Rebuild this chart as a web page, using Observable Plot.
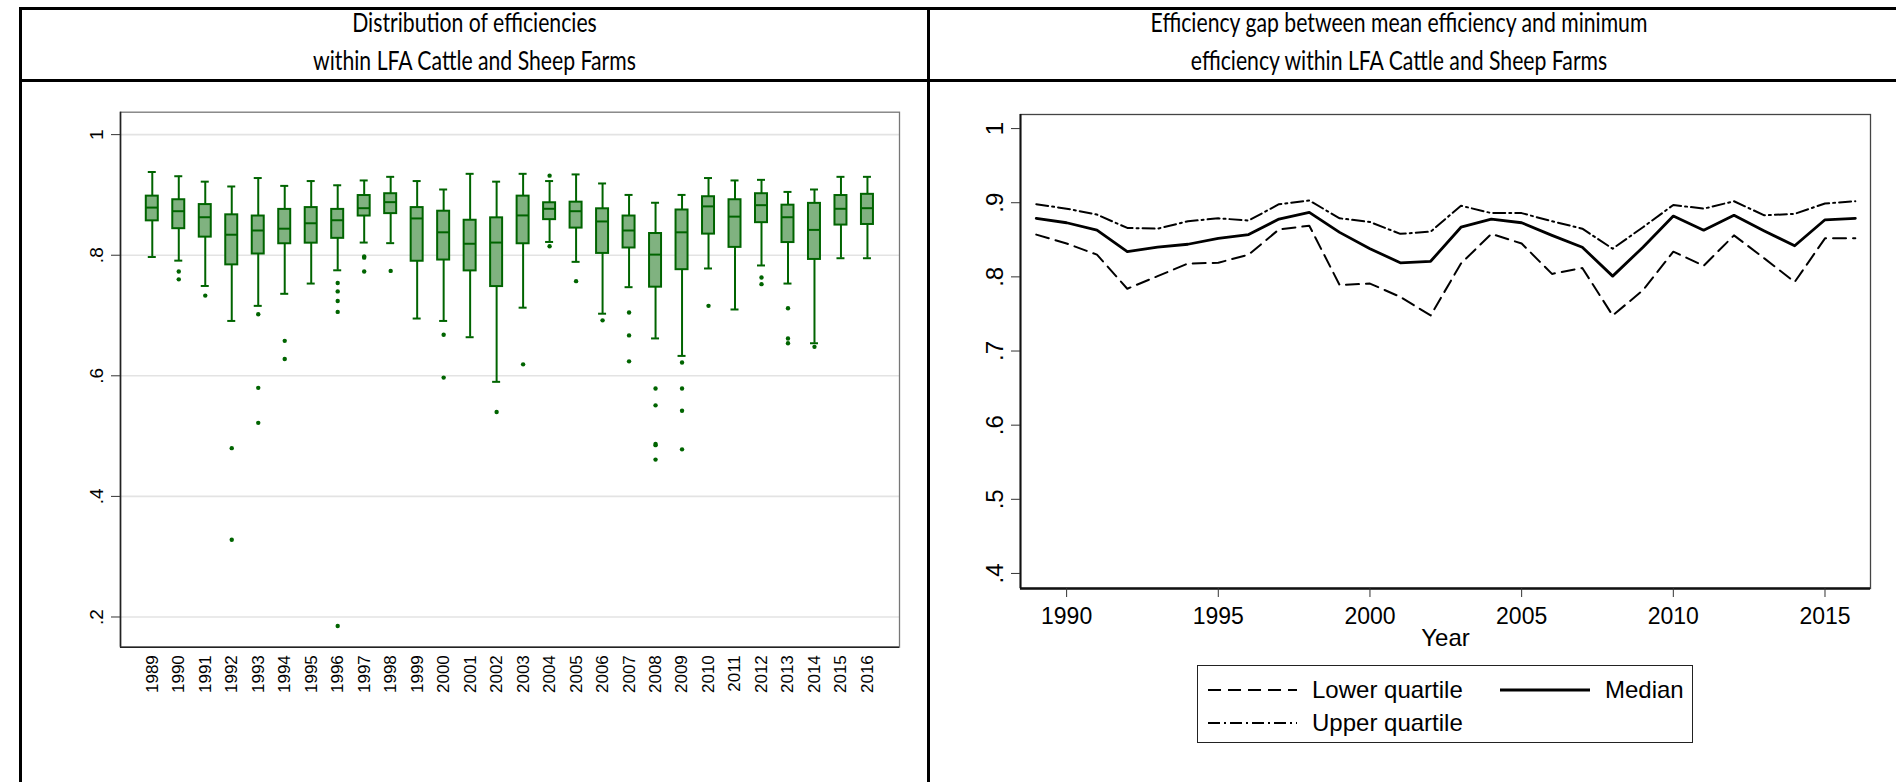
<!DOCTYPE html>
<html>
<head>
<meta charset="utf-8">
<script src="https://cdn.jsdelivr.net/npm/d3@7"></script>
<script src="https://cdn.jsdelivr.net/npm/@observablehq/plot@0.6"></script>
<style>
  html, body { margin: 0; padding: 0; background: #fff; }
  #page { position: relative; width: 1896px; height: 782px; overflow: hidden; background: #fff; font-family: "Liberation Sans", Arial, sans-serif; }
  .hline { position: absolute; background: #000; }
  .title { position: absolute; text-align: center; font-family: Lato, "Open Sans", sans-serif; font-size: 26.5px; line-height: 38px; color: #000; transform: scaleX(0.8); transform-origin: center; white-space: nowrap; }
  #legend { position: absolute; left: 1197px; top: 665px; width: 494px; height: 76px; border: 1.5px solid #222; background: #fff; }
  #legend svg { position: absolute; left: 0; top: 0; }
</style>
</head>
<body>
<div id="page">
  <div class="hline" style="left:19px; top:7px; width:1877px; height:3px;"></div>
  <div class="hline" style="left:19px; top:79px; width:1877px; height:3px;"></div>
  <div class="hline" style="left:19px; top:7px; width:3px; height:775px;"></div>
  <div class="hline" style="left:927px; top:7px; width:3px; height:775px;"></div>
  <div class="title" style="left:22px; top:3px; width:905px;">Distribution of efficiencies<br>within LFA Cattle and Sheep Farms</div>
  <div class="title" style="left:930px; top:3px; width:938px;">Efficiency gap between mean efficiency and minimum<br>efficiency within LFA Cattle and Sheep Farms</div>
  <div id="left" style="position:absolute; left:30px; top:95px; width:890px;"></div>
  <div id="right" style="position:absolute; left:940px; top:95px; width:950px;"></div>
  <div id="legend"></div>
</div>
<script>
// ---------- Data: left panel (box plots) ----------
const years = [1989,1990,1991,1992,1993,1994,1995,1996,1997,1998,1999,2000,2001,2002,2003,2004,2005,2006,2007,2008,2009,2010,2011,2012,2013,2014,2015,2016];
const whiskerLow  = [0.797,0.791,0.749,0.691,0.716,0.736,0.753,0.775,0.821,0.820,0.695,0.691,0.664,0.590,0.713,0.822,0.789,0.703,0.747,0.662,0.633,0.778,0.710,0.783,0.753,0.654,0.795,0.795];
const quart1      = [0.857,0.844,0.830,0.784,0.802,0.819,0.820,0.828,0.865,0.869,0.790,0.792,0.774,0.748,0.819,0.859,0.845,0.803,0.812,0.747,0.776,0.835,0.813,0.854,0.821,0.793,0.850,0.851];
const medianBox   = [0.879,0.873,0.863,0.834,0.841,0.844,0.853,0.858,0.878,0.888,0.861,0.838,0.819,0.821,0.866,0.877,0.873,0.856,0.841,0.801,0.838,0.881,0.864,0.883,0.863,0.842,0.877,0.878];
const quart3      = [0.898,0.892,0.884,0.867,0.865,0.876,0.879,0.876,0.899,0.902,0.879,0.873,0.858,0.862,0.898,0.887,0.888,0.877,0.865,0.836,0.875,0.897,0.892,0.902,0.883,0.886,0.899,0.901];
const whiskerHigh = [0.938,0.931,0.922,0.914,0.928,0.915,0.923,0.916,0.924,0.930,0.923,0.909,0.935,0.922,0.935,0.923,0.934,0.919,0.900,0.887,0.900,0.928,0.924,0.925,0.905,0.909,0.930,0.930];

const outlierYear  = [1990,1990,1991,1992,1992,1993,1993,1993,1994,1994,1996,1996,1996,1996,1996,1997,1997,1997,1998,2000,2000,2002,2003,2004,2004,2005,2006,2007,2007,2007,2008,2008,2008,2008,2008,2009,2009,2009,2009,2010,2012,2012,2013,2013,2013,2014];
const outlierValue = [0.773,0.760,0.733,0.480,0.328,0.702,0.580,0.522,0.658,0.628,0.754,0.740,0.724,0.706,0.185,0.798,0.796,0.773,0.774,0.668,0.597,0.540,0.619,0.932,0.815,0.757,0.692,0.705,0.667,0.624,0.579,0.551,0.487,0.485,0.461,0.622,0.579,0.542,0.478,0.716,0.763,0.752,0.712,0.662,0.654,0.648];

const leftTickValues = [0.2, 0.4, 0.6, 0.8, 1];
const leftTickLabels = [".2", ".4", ".6", ".8", "1"];

// ---------- Data: right panel (lines) ----------
const lineYears   = [1989,1990,1991,1992,1993,1994,1995,1996,1997,1998,1999,2000,2001,2002,2003,2004,2005,2006,2007,2008,2009,2010,2011,2012,2013,2014,2015,2016];
const lowerQuartile = [0.857,0.845,0.830,0.784,0.801,0.818,0.819,0.830,0.864,0.869,0.789,0.791,0.773,0.748,0.818,0.858,0.845,0.804,0.812,0.748,0.782,0.834,0.815,0.856,0.825,0.793,0.852,0.852];
const medianLine    = [0.879,0.873,0.863,0.834,0.840,0.844,0.852,0.857,0.878,0.887,0.860,0.838,0.819,0.821,0.867,0.878,0.873,0.856,0.840,0.801,0.840,0.882,0.863,0.883,0.862,0.842,0.877,0.879];
const upperQuartile = [0.898,0.892,0.884,0.866,0.865,0.875,0.879,0.876,0.898,0.903,0.879,0.874,0.858,0.861,0.896,0.886,0.886,0.875,0.865,0.838,0.867,0.897,0.892,0.902,0.883,0.885,0.899,0.902];

const rightYTicks = [0.4, 0.5, 0.6, 0.7, 0.8, 0.9, 1];
const rightYLabels = [".4", ".5", ".6", ".7", ".8", ".9", "1"];
const rightXTicks = [1990, 1995, 2000, 2005, 2010, 2015];

const seriesNames = ["Lower quartile", "Median", "Upper quartile"];

// ---------- Build tables ----------
const boxes = years.map((y, i) => ({year: y, lo: whiskerLow[i], q1: quart1[i], med: medianBox[i], q3: quart3[i], hi: whiskerHigh[i]}));
const outliers = outlierYear.map((y, i) => ({year: y, v: outlierValue[i]}));
const lines = lineYears.map((y, i) => ({year: y, lower: lowerQuartile[i], median: medianLine[i], upper: upperQuartile[i]}));

const G = "#006400";
const FILL = "#80b280";
const FONT = "'Liberation Sans', Arial, sans-serif";
const halfBox = 0.2264, halfCap = 0.151;
const LX = [1987.8, 2017.21], LY = [0.1499, 1.0372];
const leftLabel = new Map(leftTickValues.map((v, i) => [v, leftTickLabels[i]]));

const leftPlot = Plot.plot({
  width: 890, height: 620,
  marginLeft: 90, marginRight: 21, marginTop: 16.7, marginBottom: 68.3,
  style: {background: "transparent", fontFamily: FONT, overflow: "visible", color: "#000"},
  x: {domain: LX, axis: null},
  y: {domain: LY, axis: null},
  marks: [
    Plot.ruleY(leftTickValues, {stroke: "#e3e3e3", strokeWidth: 1.6}),
    Plot.frame({stroke: "#777", strokeWidth: 1.3}),
    Plot.ruleX([LX[0]], {stroke: "#222", strokeWidth: 1.6}),
    Plot.ruleY([LY[0]], {stroke: "#222", strokeWidth: 1.6}),
    Plot.ruleX(boxes, {x: "year", y1: "lo", y2: "hi", stroke: G, strokeWidth: 2}),
    Plot.rect(boxes, {x1: d => d.year - halfBox, x2: d => d.year + halfBox, y1: "q1", y2: "q3", fill: FILL, stroke: G, strokeWidth: 2}),
    Plot.ruleY(boxes, {y: "med", x1: d => d.year - halfBox, x2: d => d.year + halfBox, stroke: G, strokeWidth: 2}),
    Plot.ruleY(boxes, {y: "hi", x1: d => d.year - halfCap, x2: d => d.year + halfCap, stroke: G, strokeWidth: 2}),
    Plot.ruleY(boxes, {y: "lo", x1: d => d.year - halfCap, x2: d => d.year + halfCap, stroke: G, strokeWidth: 2}),
    Plot.dot(outliers, {x: "year", y: "v", r: 2.2, fill: G, stroke: "none"}),
    Plot.axisY(leftTickValues, {tickFormat: d => leftLabel.get(d), tickRotate: -90, tickSize: 9, tickPadding: 9, fontSize: 19, stroke: "#333", label: null}),
    Plot.axisX(years, {tickFormat: d => String(d), tickRotate: -90, tickSize: 0, tickPadding: 8, fontSize: 17, label: null})
  ]
});
document.getElementById("left").appendChild(leftPlot);

const RX = [1988.48, 2016.5], RY = [0.3797, 1.019];
const rightLabel = new Map(rightYTicks.map((v, i) => [v, rightYLabels[i]]));
const dashStyles = {"Lower quartile": "13,7", "Median": null, "Upper quartile": "12,4,2,4"};

const rightPlot = Plot.plot({
  width: 950, height: 570,
  marginLeft: 80, marginRight: 20, marginTop: 19, marginBottom: 77,
  style: {background: "transparent", fontFamily: FONT, overflow: "visible", color: "#000"},
  x: {domain: RX, axis: null},
  y: {domain: RY, axis: null},
  marks: [
    Plot.frame({stroke: "#444", strokeWidth: 1.3}),
    Plot.ruleX([RX[0]], {stroke: "#111", strokeWidth: 2}),
    Plot.ruleY([RY[0]], {stroke: "#111", strokeWidth: 2.5}),
    Plot.lineY(lines, {x: "year", y: "lower", stroke: "#000", strokeWidth: 2, strokeDasharray: dashStyles["Lower quartile"]}),
    Plot.lineY(lines, {x: "year", y: "upper", stroke: "#000", strokeWidth: 2, strokeDasharray: dashStyles["Upper quartile"]}),
    Plot.lineY(lines, {x: "year", y: "median", stroke: "#000", strokeWidth: 2.8}),
    Plot.axisY(rightYTicks, {tickFormat: d => rightLabel.get(d), tickRotate: -90, tickSize: 9, tickPadding: 9, fontSize: 24, stroke: "#333", label: null}),
    Plot.axisX(rightXTicks, {tickFormat: d => String(d), tickSize: 9, tickPadding: 10, fontSize: 23, stroke: "#333", label: null}),
    Plot.text(["Year"], {frameAnchor: "bottom", dy: 57, fontSize: 24, fill: "#000"})
  ]
});
document.getElementById("right").appendChild(rightPlot);

// ---------- Legend ----------
const legendRows = [
  {name: seriesNames[0], x: 10, y: 24, w: 89, width: 2, dash: dashStyles[seriesNames[0]]},
  {name: seriesNames[1], x: 302, y: 24, w: 90, width: 2.8, dash: null},
  {name: seriesNames[2], x: 10, y: 57, w: 89, width: 2, dash: dashStyles[seriesNames[2]]}
];
const ns = "http://www.w3.org/2000/svg";
const lsvg = document.createElementNS(ns, "svg");
lsvg.setAttribute("width", 494); lsvg.setAttribute("height", 76);
legendRows.forEach(r => {
  const ln = document.createElementNS(ns, "line");
  ln.setAttribute("x1", r.x); ln.setAttribute("x2", r.x + r.w);
  ln.setAttribute("y1", r.y); ln.setAttribute("y2", r.y);
  ln.setAttribute("stroke", "#000"); ln.setAttribute("stroke-width", r.width);
  if (r.dash) ln.setAttribute("stroke-dasharray", r.dash);
  lsvg.appendChild(ln);
  const t = document.createElementNS(ns, "text");
  t.setAttribute("x", r.x + r.w + 15); t.setAttribute("y", r.y);
  t.setAttribute("dy", "0.35em");
  t.setAttribute("font-size", 24); t.setAttribute("font-family", FONT);
  t.textContent = r.name;
  lsvg.appendChild(t);
});
document.getElementById("legend").appendChild(lsvg);
</script>
</body>
</html>
